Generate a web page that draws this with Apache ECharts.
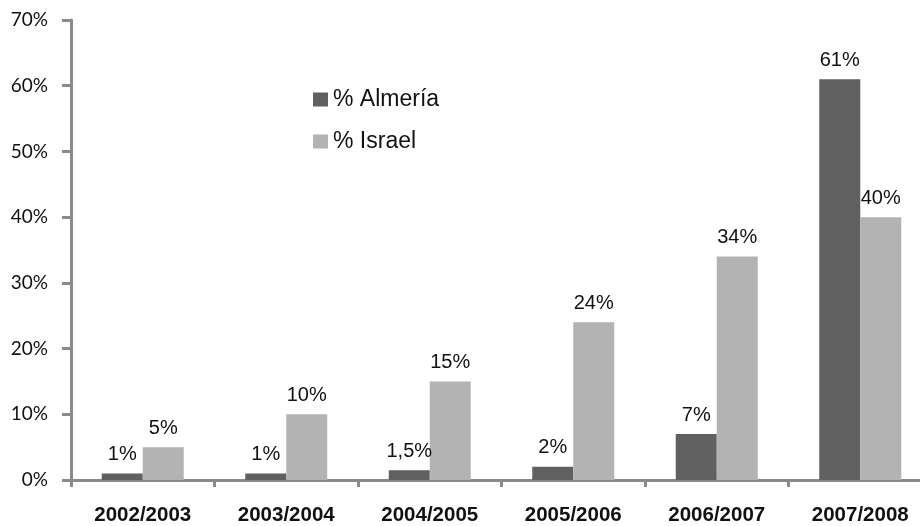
<!DOCTYPE html>
<html><head><meta charset="utf-8">
<script src="https://cdn.jsdelivr.net/npm/echarts@6/dist/echarts.min.js"></script>
<style>html,body{margin:0;padding:0;background:#fff;overflow:hidden}#c{width:932px;height:526px}</style>
</head><body><div id="c"></div>
<script>
const categories = ['2002/2003','2003/2004','2004/2005','2005/2006','2006/2007','2007/2008'];
const almeria = [1, 1, 1.5, 2, 7, 61];
const israel = [5, 10, 15, 24, 34, 40];
const almeriaLabels = ['1%','1%','1,5%','2%','7%','61%'];
const israelLabels = ['5%','10%','15%','24%','34%','40%'];
const yTicks = [0,10,20,30,40,50,60,70];

const chart = echarts.init(document.getElementById('c'));
const lblStyle = {show:true, position:'top', distance:9, fontFamily:'Liberation Sans', fontSize:20, color:'#111'};
chart.setOption({
  animation:false,
  grid:{left:71, right:0, top:20, bottom:45, containLabel:false},
  legend:{
    orient:'vertical', left:313, top:88, padding:0, itemWidth:15, itemHeight:14, itemGap:19,
    icon:'rect',
    textStyle:{fontFamily:'Liberation Sans', fontSize:23, color:'#111'},
    data:['% Almería','% Israel']
  },
  xAxis:{
    type:'category', data:categories,
    axisLine:{lineStyle:{color:'#8a8a8a', width:3}},
    axisTick:{show:true, alignWithLabel:false, length:7, lineStyle:{color:'#8a8a8a', width:3}},
    axisLabel:{fontFamily:'Liberation Sans', fontWeight:'bold', fontSize:20.5, color:'#111', margin:25}
  },
  yAxis:{
    type:'value', min:0, max:70, interval:10,
    splitLine:{show:false},
    axisLine:{show:true, lineStyle:{color:'#8a8a8a', width:3}},
    axisTick:{show:true, length:9, lineStyle:{color:'#8a8a8a', width:3}},
    axisLabel:{fontFamily:'Lato', fontSize:19, color:'#111', margin:23,
      formatter:v=> yTicks.includes(v) ? v+'%' : ''}
  },
  series:[
    {name:'% Almería', type:'bar', data:almeria, barWidth:41, barGap:'0%',
     itemStyle:{color:'#606060'},
     label:Object.assign({}, lblStyle, {formatter:p=>almeriaLabels[p.dataIndex]})},
    {name:'% Israel', type:'bar', data:israel, barWidth:41,
     itemStyle:{color:'#b3b3b3'},
     label:Object.assign({}, lblStyle, {formatter:p=>israelLabels[p.dataIndex]})}
  ]
});
</script></body></html>
